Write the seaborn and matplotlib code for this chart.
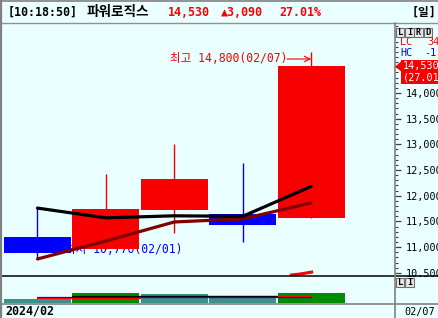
import matplotlib
matplotlib.use('Agg')
import matplotlib.pyplot as plt
import seaborn as sns
import numpy as np
import pandas as pd
from matplotlib.patches import Rectangle, Polygon
from matplotlib.lines import Line2D

# ---------------- data ----------------
dates = ['02/01', '02/02', '02/05', '02/06', '02/07']
opens = [11200, 10960, 11720, 11650, 11570]
highs = [11760, 12420, 13000, 12640, 14800]
lows = [10770, 10960, 11270, 11100, 11570]
closes = [10880, 11740, 12320, 11440, 14530]
ma5 = [11760, 11570, 11610, 11600, 12180]
ma20 = [10770, 11120, 11490, 11550, 11860]
volume = [15, 37, 33, 24, 37]
vol_colors = ['#3f8f8f', '#008c00', '#3f8f8f', '#3f8f8f', '#008c00']
ind_red = [18, 18, 25, 25, 27]
ind_blue = [22, 22, 22, 22, 22]
ind_black = [None, 26, 26, 26, None]
ramp_x = [3.69, 3.85, 4.03]
ramp_y = [10455, 10480, 10520]
ytick_values = [10500, 11000, 11500, 12000, 12500, 13000, 13500, 14000]

time_label = '[10:18:50]'
name_label = '파워로직스'
price_label = '14,530'
change_label = '▲3,090'
pct_label = '27.01%'
period_label = '[일]'
high_label = '최고 14,800(02/07)'
low_label = '최저 10,770(02/01)'
month_label = '2024/02'
last_date_label = '02/07'
lc_label, lc_value = 'LC', '34'
hc_label, hc_value = 'HC', '-1'
box_pct_label = '(27.01%)'

BG = '#EAFFFF'
RED = '#F80000'
BLUE = '#0000FF'
MONO = ['DejaVu Sans Mono', 'Noto Sans CJK KR', 'DejaVu Sans']

sns.set_style('white', {'axes.facecolor': BG, 'figure.facecolor': BG})
plt.rcParams['font.family'] = ['DejaVu Sans Mono', 'Noto Sans CJK KR', 'DejaVu Sans']

W, H = 439, 318
fig = plt.figure(figsize=(W / 100, H / 100), dpi=100, facecolor=BG)


def fp(x, y):
    return x / W, 1 - y / H


# main price axes: px x 2..395, y 24..276
ax = fig.add_axes([2 / W, 1 - 276 / H, 393 / W, 252 / H])
axv = fig.add_axes([2 / W, 1 - 303 / H, 393 / W, 27 / H])
for a in (ax, axv):
    a.set_facecolor(BG)
    for s in a.spines.values():
        s.set_visible(False)

xs = np.arange(len(dates))
ax.set_xlim(-0.519, 5.227)
ax.set_ylim(10439, 15341)
axv.set_xlim(-0.519, 5.227)
axv.set_ylim(0, 100)

# low annotation (drawn under candles)
ax.annotate(low_label, xy=(0, lows[0]), xytext=(145, 9), textcoords='offset pixels',
            ha='right', va='center', color=BLUE, fontsize=8.3, family=MONO, zorder=1)

# candles
cols = [RED if c >= o else BLUE for o, c in zip(opens, closes)]
ax.vlines(xs, lows, highs, colors=cols, lw=1.0, zorder=2)
bottoms = [min(o, c) for o, c in zip(opens, closes)]
heights = [abs(c - o) for o, c in zip(opens, closes)]
ax.bar(xs, heights, bottom=bottoms, width=0.98, color=cols, zorder=2.5, linewidth=0)

# moving averages
sns.lineplot(x=xs, y=ma20, ax=ax, color='#800000', lw=2.3, zorder=3)
sns.lineplot(x=xs, y=ma5, ax=ax, color='black', lw=2.3, zorder=3.2)
ax.plot(ramp_x, ramp_y, color=RED, lw=2.2, solid_capstyle='butt', zorder=3)

# high annotation: text + horizontal arrow pointing at the last candle's wick
ax.annotate('', xy=(4, H - 59), xycoords=('data', 'figure pixels'),
            xytext=(-24, 0), textcoords='offset pixels',
            arrowprops=dict(arrowstyle='->', color=RED, lw=0.8, shrinkA=0, shrinkB=0), zorder=4)
ax.annotate(high_label, xy=(4, H - 59), xycoords=('data', 'figure pixels'),
            xytext=(-24, 0), textcoords='offset pixels',
            ha='right', va='center', color=RED, fontsize=8.3, family=MONO, zorder=4)

# axis ticks on right
ax.set_xticks([])
ax.yaxis.tick_right()
ax.set_yticks(ytick_values)
ax.set_yticklabels([f'{v:,}' for v in ytick_values])
ax.yaxis.set_minor_locator(plt.MultipleLocator(100))
ax.tick_params(axis='y', which='major', length=4, width=0.9, color='#404040',
               pad=3.6, labelsize=7.3, labelcolor='black', right=True, left=False)
ax.tick_params(axis='y', which='minor', length=2, width=0.8, color='#404040', right=True, left=False)
for lab in ax.get_yticklabels():
    lab.set_family(MONO)

# volume panel
axv.bar(xs, volume, width=0.98, color=vol_colors, linewidth=0, zorder=2)
axv.plot(xs, ind_blue, color=BLUE, lw=0.9, drawstyle='steps-mid', zorder=3)
axv.plot(xs, ind_red, color='red', lw=0.9, drawstyle='steps-mid', zorder=3)
axv.plot(xs, [np.nan if v is None else v for v in ind_black], color='black', lw=0.9,
         drawstyle='steps-mid', zorder=3)
axv.set_xticks([])
axv.set_yticks([])

# cover overflow of tick labels below the price panel
fig.patches.append(Rectangle(fp(396, 303), 43 / W, 26.5 / H, transform=fig.transFigure,
                             facecolor=BG, edgecolor='none', zorder=5))

# frame lines
def hline(y, x0, x1, color, lw):
    fig.add_artist(Line2D([x0 / W, x1 / W], [1 - y / H, 1 - y / H], color=color, lw=lw, zorder=6))


def vline(x, y0, y1, color, lw):
    fig.add_artist(Line2D([x / W, x / W], [1 - y0 / H, 1 - y1 / H], color=color, lw=lw, zorder=6))


hline(0.5, 0, W, '#808080', 1.2)
hline(23, 0, W, '#909090', 1.0)
hline(276, 2, W, 'black', 1.1)
hline(303.5, 0, W, '#808080', 1.2)
vline(1, 0, H, '#808080', 1.6)
vline(395, 23, H, '#808080', 1.2)

# header
hdr_y = 1 - 12 / H
fig.text(8 / W, hdr_y, time_label, ha='left', va='center', fontsize=8.4, weight='bold', color='black', family=MONO)
fig.text(87 / W, hdr_y, name_label, ha='left', va='center', fontsize=9.8, weight='bold', color='black',
         family=['Noto Sans CJK KR', 'DejaVu Sans'])
fig.text(168 / W, hdr_y, price_label, ha='left', va='center', fontsize=8.4, weight='bold', color=RED, family=MONO)
fig.text(221 / W, hdr_y, change_label, ha='left', va='center', fontsize=8.4, weight='bold', color=RED, family=MONO)
fig.text(279 / W, hdr_y, pct_label, ha='left', va='center', fontsize=8.4, weight='bold', color=RED, family=MONO)
fig.text(436 / W, hdr_y, period_label, ha='right', va='center', fontsize=8.4, weight='bold', color='black', family=MONO)

# L I R D buttons
for i, ch in enumerate('LIRD'):
    x0 = 396 + i * 9.2
    fig.patches.append(Rectangle(fp(x0, 37), 8.4 / W, 8.5 / H, transform=fig.transFigure,
                                 facecolor='#e8e8e8', edgecolor='#707070', lw=0.8, zorder=7))
    fig.text((x0 + 4.2) / W, 1 - 32.8 / H, ch, ha='center', va='center', fontsize=6.2,
             weight='bold', color='black', family=MONO, zorder=8)
for i, ch in enumerate('LI'):
    x0 = 396 + i * 9.2
    fig.patches.append(Rectangle(fp(x0, 286.5), 8.4 / W, 8.5 / H, transform=fig.transFigure,
                                 facecolor='#e8e8e8', edgecolor='#707070', lw=0.8, zorder=7))
    fig.text((x0 + 4.2) / W, 1 - 282.3 / H, ch, ha='center', va='center', fontsize=6.2,
             weight='bold', color='black', family=MONO, zorder=8)

fig.text(400 / W, 1 - 42 / H, lc_label, ha='left', va='center', fontsize=7.3, color=RED, family=MONO, zorder=8)
fig.text(427 / W, 1 - 42 / H, lc_value, ha='left', va='center', fontsize=7.3, color=RED, family=MONO, zorder=8)
fig.text(400 / W, 1 - 52.5 / H, hc_label, ha='left', va='center', fontsize=7.3, color=BLUE, family=MONO, zorder=8)
fig.text(424 / W, 1 - 52.5 / H, hc_value, ha='left', va='center', fontsize=7.3, color=BLUE, family=MONO, zorder=8)

# current price box anchored at the last close
y_close_px = H - ax.transData.transform((0, closes[-1]))[1]
fig.patches.append(Polygon([fp(395, y_close_px + 1), fp(401.5, y_close_px - 4.5), fp(401.5, y_close_px + 6)],
                           closed=True, transform=fig.transFigure, facecolor=RED, edgecolor='none', zorder=7))
fig.patches.append(Rectangle(fp(401.5, y_close_px + 18.3), 38 / W, 24.3 / H, transform=fig.transFigure,
                             facecolor=RED, edgecolor='none', zorder=7))
fig.text(403 / W, 1 - (y_close_px + 0.5) / H, f'{closes[-1]:,}', ha='left', va='center', fontsize=7.3,
         color='white', family=MONO, zorder=8)
fig.text(403 / W, 1 - (y_close_px + 12) / H, box_pct_label, ha='left', va='center', fontsize=7.3,
         color='white', family=MONO, zorder=8)

# footer
fig.text(5 / W, 1 - 311.5 / H, month_label, ha='left', va='center', fontsize=8.4, weight='bold',
         color='black', family=MONO)
fig.text(404 / W, 1 - 311.5 / H, last_date_label, ha='left', va='center', fontsize=7.3,
         color='black', family=MONO)

fig.savefig('out.png', dpi=100, facecolor=BG)
